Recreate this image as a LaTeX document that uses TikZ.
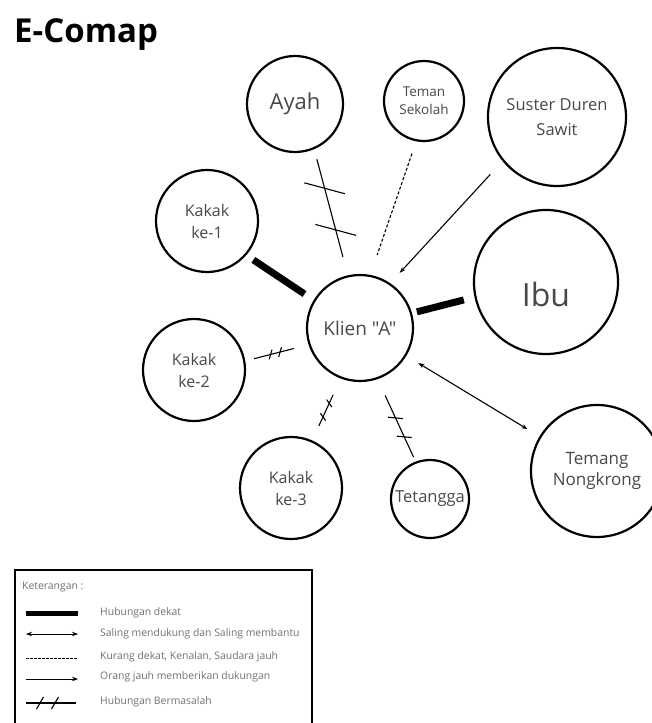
\documentclass[tikz,border=0pt]{standalone}
\usepackage{fontspec}
\setmainfont{Open Sans}[Ligatures=TeXOff]
\usetikzlibrary{arrows.meta,decorations.markings}
\definecolor{teksabu}{HTML}{484848}
\definecolor{legendabu}{HTML}{707070}
\tikzset{
  orang/.style={draw, circle, line width=2.2pt, inner sep=0pt, align=center, text=teksabu},
  dekat/.style={line width=7pt},
  jauh/.style={line width=1.1pt, dash pattern=on 3pt off 2pt},
  dukung/.style={line width=1.1pt, -{Stealth[length=6pt,width=4.5pt]}},
  saling/.style={line width=1.1pt, {Stealth[length=6pt,width=4.5pt]}-{Stealth[length=6pt,width=4.5pt]}},
  centang/.style={line width=1.1pt, shorten <=0pt, shorten >=0pt, rotate=60},
  masalah/.style n args={3}{line width=1.1pt, postaction={decorate, decoration={markings,
      mark=at position #1 with {\draw[centang] (-#3,0pt) -- (#3,0pt);},
      mark=at position #2 with {\draw[centang] (-#3,0pt) -- (#3,0pt);}}}},
  keterangan/.style={anchor=west, inner sep=0pt, text=legendabu, font=\fontsize{10.4}{12}\selectfont},
}
\begin{document}
\begin{tikzpicture}[x=1pt,y=-1pt]
\useasboundingbox (0,0) rectangle (651,723);

% Title
\node [anchor=base west, inner sep=0pt, font=\fontsize{33}{40}\selectfont\bfseries] (judul) at (14,42) {E-Comap};

% Drawing circles
\node [orang, minimum size=96pt, font=\fontsize{22}{26}\selectfont] (ayah) at (295,104) {Ayah};
\node [orang, minimum size=80pt, font=\fontsize{13.5}{18}\selectfont] (teman) at (424,101) {Teman\\Sekolah};
\node [orang, minimum size=138pt, font=\fontsize{16.5}{25}\selectfont] (suster) at (557,117) {Suster Duren\\Sawit};
\node [orang, minimum size=102pt, font=\fontsize{16}{22}\selectfont] (kakak1) at (207,221) {Kakak\\ke-1};
\node [orang, minimum size=144pt, text height=49pt, text depth=0pt, font=\fontsize{32}{38}\selectfont] (ibu) at (546,282) {Ibu};
\node [orang, minimum size=106pt, font=\fontsize{19}{24}\selectfont] (klien) at (360,328) {Klien "A"};
\node [orang, minimum size=102pt, font=\fontsize{16}{22}\selectfont] (kakak2) at (194,370) {Kakak\\ke-2};
\node [orang, minimum size=102pt, font=\fontsize{16}{22}\selectfont] (kakak3) at (291,488) {Kakak\\ke-3};
\node [orang, minimum size=78pt, font=\fontsize{16.5}{22}\selectfont] (tetangga) at (430,499) {Tetangga};
\node [orang, minimum size=132pt, font=\fontsize{17}{21}\selectfont] (temang) at (597,471) {Temang\\Nongkrong};

% Drawing connectors to Klien "A"
\draw [dekat, shorten <=8.5pt, shorten >=11pt] (kakak1.-41) -- (klien.149);
\draw [dekat, shorten <=5pt, shorten >=11pt] (klien.16) -- (ibu.192);
\draw [masalah={0.31}{0.64}{21pt}, shorten <=10.5pt, shorten >=19pt] (ayah.-67) -- (klien.103);
\draw [jauh, shorten <=13pt, shorten >=21pt] (teman.259) -- (klien.79);
\draw [dukung, shorten <=18pt, shorten >=14pt] (suster.219) -- (klien.56);
\draw [saling, shorten <=14pt, shorten >=14pt] (klien.-31) -- (temang.149);
\draw [masalah={0.40}{0.55}{5pt}, shorten <=9pt, shorten >=15pt] (kakak2.10) -- (klien.198);
\draw [masalah={0.38}{0.60}{4.5pt}, shorten <=16pt, shorten >=18pt] (kakak3.66) -- (klien.249);
\draw [masalah={0.30}{0.53}{7.5pt}, shorten <=5pt, shorten >=18pt] (tetangga.111) -- (klien.-71);

% Drawing legend
\draw [line width=1.5pt] (15,745) -- (15,570) -- (312,570) -- (312,745);
\node [keterangan] (judulket) at (22,587) {Keterangan :};
\draw [line width=5pt] (26,613) -- (78,613);
\node [keterangan] (ket1) at (100,613) {Hubungan dekat};
\draw [saling, line width=0.9pt] (26,634) -- (78,634);
\node [keterangan] (ket2) at (100,634) {Saling mendukung dan Saling membantu};
\draw [jauh, line width=0.9pt, dash pattern=on 2.5pt off 1.5pt] (26,658) -- (78,658);
\node [keterangan] (ket3) at (100,657) {Kurang dekat, Kenalan, Saudara jauh};
\draw [dukung, line width=0.9pt] (26,679) -- (78,679);
\node [keterangan] (ket4) at (100,677) {Orang jauh memberikan dukungan};
\draw [masalah={0.28}{0.58}{7pt}] (26,703) -- (76,703);
\node [keterangan] (ket5) at (100,702) {Hubungan Bermasalah};
\end{tikzpicture}
\end{document}
